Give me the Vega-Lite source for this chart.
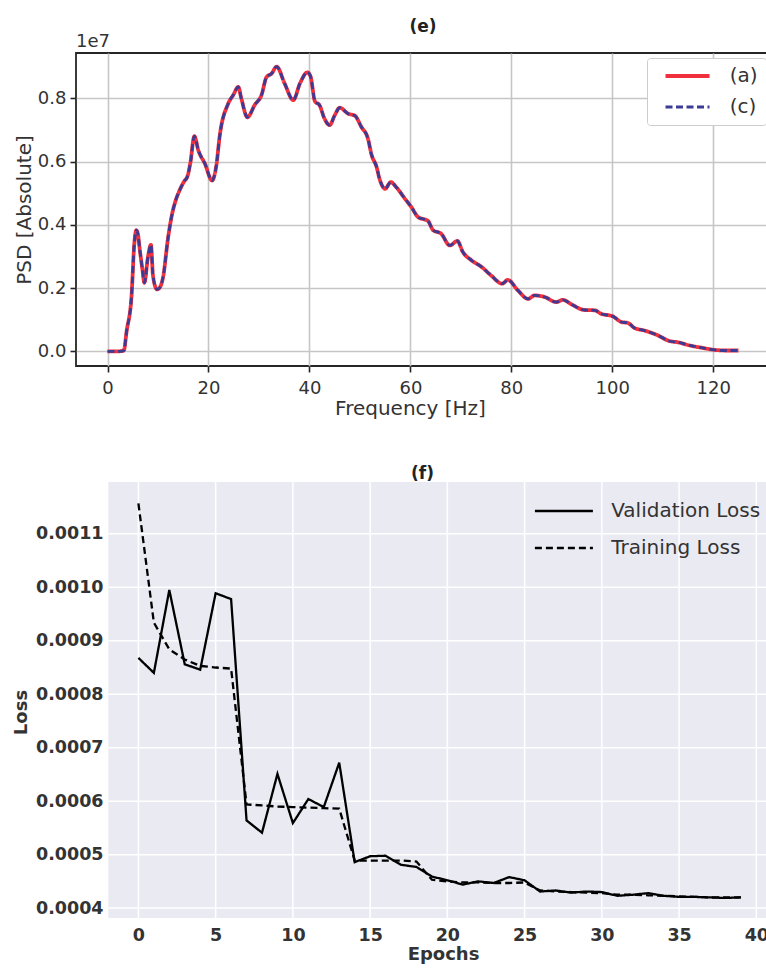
{
  "$schema": "https://vega.github.io/schema/vega-lite/v6.json",
  "background": "white",
  "padding": {"left": 12, "top": 17, "right": 0, "bottom": 0},
  "config": {
    "font": "DejaVu Sans",
    "title": {"font": "DejaVu Sans", "fontWeight": "bold", "fontSize": 17, "color": "#222222", "anchor": "middle"}
  },
  "datasets": {
    "psd": [
      {"f": 0, "a": 0, "c": 0},
      {"f": 1, "a": 0, "c": 0},
      {"f": 2.4, "a": 5000, "c": 5000},
      {"f": 3.2, "a": 25000, "c": 25000},
      {"f": 3.8, "a": 660000, "c": 660000},
      {"f": 4.75, "a": 1750000, "c": 1750000},
      {"f": 5.3, "a": 3400000, "c": 3400000},
      {"f": 5.7, "a": 3830000, "c": 3830000},
      {"f": 6.0, "a": 3720000, "c": 3720000},
      {"f": 6.4, "a": 3200000, "c": 3200000},
      {"f": 6.9, "a": 2600000, "c": 2600000},
      {"f": 7.3, "a": 2170000, "c": 2170000},
      {"f": 8.0, "a": 2980000, "c": 2980000},
      {"f": 8.6, "a": 3370000, "c": 3370000},
      {"f": 9.0, "a": 2400000, "c": 2400000},
      {"f": 9.8, "a": 1960000, "c": 1960000},
      {"f": 10.4, "a": 2030000, "c": 2030000},
      {"f": 11.0, "a": 2350000, "c": 2350000},
      {"f": 12.0, "a": 3600000, "c": 3600000},
      {"f": 12.8, "a": 4350000, "c": 4350000},
      {"f": 13.5, "a": 4770000, "c": 4770000},
      {"f": 14.3, "a": 5100000, "c": 5100000},
      {"f": 15.2, "a": 5380000, "c": 5380000},
      {"f": 15.8, "a": 5520000, "c": 5520000},
      {"f": 16.4, "a": 5950000, "c": 5950000},
      {"f": 17.2, "a": 6800000, "c": 6800000},
      {"f": 18.0, "a": 6350000, "c": 6350000},
      {"f": 19.3, "a": 5930000, "c": 5930000},
      {"f": 20.7, "a": 5400000, "c": 5400000},
      {"f": 21.6, "a": 5930000, "c": 5930000},
      {"f": 22.2, "a": 6780000, "c": 6780000},
      {"f": 23.9, "a": 7830000, "c": 7830000},
      {"f": 24.9, "a": 8100000, "c": 8100000},
      {"f": 25.9, "a": 8360000, "c": 8360000},
      {"f": 26.5, "a": 8000000, "c": 8000000},
      {"f": 27.7, "a": 7400000, "c": 7400000},
      {"f": 29.2, "a": 7800000, "c": 7800000},
      {"f": 30.5, "a": 8100000, "c": 8100000},
      {"f": 31.5, "a": 8670000, "c": 8670000},
      {"f": 32.5, "a": 8780000, "c": 8780000},
      {"f": 33.5, "a": 9000000, "c": 9000000},
      {"f": 35.1, "a": 8460000, "c": 8460000},
      {"f": 36.8, "a": 7940000, "c": 7940000},
      {"f": 38.1, "a": 8460000, "c": 8460000},
      {"f": 39.6, "a": 8820000, "c": 8820000},
      {"f": 40.2, "a": 8700000, "c": 8700000},
      {"f": 41.1, "a": 7900000, "c": 7900000},
      {"f": 42.0, "a": 7780000, "c": 7780000},
      {"f": 43.0, "a": 7350000, "c": 7350000},
      {"f": 44.0, "a": 7150000, "c": 7150000},
      {"f": 45.0, "a": 7460000, "c": 7460000},
      {"f": 46.0, "a": 7700000, "c": 7700000},
      {"f": 47.7, "a": 7510000, "c": 7510000},
      {"f": 49.0, "a": 7450000, "c": 7450000},
      {"f": 50.3, "a": 7090000, "c": 7090000},
      {"f": 51.6, "a": 6720000, "c": 6720000},
      {"f": 52.3, "a": 6220000, "c": 6220000},
      {"f": 53.3, "a": 5830000, "c": 5830000},
      {"f": 53.9, "a": 5450000, "c": 5450000},
      {"f": 55.0, "a": 5140000, "c": 5140000},
      {"f": 56.1, "a": 5350000, "c": 5350000},
      {"f": 57.2, "a": 5190000, "c": 5190000},
      {"f": 58.9, "a": 4830000, "c": 4830000},
      {"f": 60.2, "a": 4560000, "c": 4560000},
      {"f": 61.5, "a": 4250000, "c": 4250000},
      {"f": 63.5, "a": 4120000, "c": 4120000},
      {"f": 64.5, "a": 3830000, "c": 3830000},
      {"f": 66.1, "a": 3720000, "c": 3720000},
      {"f": 67.8, "a": 3350000, "c": 3350000},
      {"f": 69.3, "a": 3490000, "c": 3490000},
      {"f": 70.4, "a": 3140000, "c": 3140000},
      {"f": 72.1, "a": 2880000, "c": 2880000},
      {"f": 74.1, "a": 2670000, "c": 2670000},
      {"f": 76.0, "a": 2400000, "c": 2400000},
      {"f": 78.2, "a": 2140000, "c": 2140000},
      {"f": 79.3, "a": 2260000, "c": 2260000},
      {"f": 81.3, "a": 1930000, "c": 1930000},
      {"f": 83.3, "a": 1660000, "c": 1660000},
      {"f": 84.6, "a": 1770000, "c": 1770000},
      {"f": 86.6, "a": 1720000, "c": 1720000},
      {"f": 88.9, "a": 1560000, "c": 1560000},
      {"f": 90.2, "a": 1630000, "c": 1630000},
      {"f": 91.9, "a": 1490000, "c": 1490000},
      {"f": 94.5, "a": 1310000, "c": 1310000},
      {"f": 96.5, "a": 1300000, "c": 1300000},
      {"f": 97.8, "a": 1190000, "c": 1190000},
      {"f": 100.1, "a": 1110000, "c": 1110000},
      {"f": 101.8, "a": 930000, "c": 930000},
      {"f": 103.1, "a": 900000, "c": 900000},
      {"f": 104.4, "a": 740000, "c": 740000},
      {"f": 106.4, "a": 660000, "c": 660000},
      {"f": 109.0, "a": 510000, "c": 510000},
      {"f": 111.3, "a": 330000, "c": 330000},
      {"f": 113.0, "a": 290000, "c": 290000},
      {"f": 115.3, "a": 190000, "c": 190000},
      {"f": 117.6, "a": 120000, "c": 120000},
      {"f": 120.3, "a": 50000, "c": 50000},
      {"f": 122.5, "a": 30000, "c": 30000},
      {"f": 125.0, "a": 30000, "c": 30000}
    ],
    "loss": [
      {"epoch": 0, "Validation Loss": 0.000868, "Training Loss": 0.001157},
      {"epoch": 1, "Validation Loss": 0.000840, "Training Loss": 0.000934},
      {"epoch": 2, "Validation Loss": 0.000995, "Training Loss": 0.000884},
      {"epoch": 3, "Validation Loss": 0.000856, "Training Loss": 0.000865},
      {"epoch": 4, "Validation Loss": 0.000846, "Training Loss": 0.000853},
      {"epoch": 5, "Validation Loss": 0.000989, "Training Loss": 0.000850},
      {"epoch": 6, "Validation Loss": 0.000978, "Training Loss": 0.000848},
      {"epoch": 7, "Validation Loss": 0.000564, "Training Loss": 0.000594},
      {"epoch": 8, "Validation Loss": 0.000541, "Training Loss": 0.000592},
      {"epoch": 9, "Validation Loss": 0.000651, "Training Loss": 0.000590},
      {"epoch": 10, "Validation Loss": 0.000559, "Training Loss": 0.000589},
      {"epoch": 11, "Validation Loss": 0.000604, "Training Loss": 0.000588},
      {"epoch": 12, "Validation Loss": 0.000589, "Training Loss": 0.000587},
      {"epoch": 13, "Validation Loss": 0.000672, "Training Loss": 0.000586},
      {"epoch": 14, "Validation Loss": 0.000486, "Training Loss": 0.000489},
      {"epoch": 15, "Validation Loss": 0.000497, "Training Loss": 0.000489},
      {"epoch": 16, "Validation Loss": 0.000498, "Training Loss": 0.000489},
      {"epoch": 17, "Validation Loss": 0.000481, "Training Loss": 0.000489},
      {"epoch": 18, "Validation Loss": 0.000477, "Training Loss": 0.000487},
      {"epoch": 19, "Validation Loss": 0.000459, "Training Loss": 0.000453},
      {"epoch": 20, "Validation Loss": 0.000452, "Training Loss": 0.000450},
      {"epoch": 21, "Validation Loss": 0.000444, "Training Loss": 0.000448},
      {"epoch": 22, "Validation Loss": 0.000450, "Training Loss": 0.000448},
      {"epoch": 23, "Validation Loss": 0.000447, "Training Loss": 0.000447},
      {"epoch": 24, "Validation Loss": 0.000458, "Training Loss": 0.000447},
      {"epoch": 25, "Validation Loss": 0.000452, "Training Loss": 0.000448},
      {"epoch": 26, "Validation Loss": 0.000431, "Training Loss": 0.000433},
      {"epoch": 27, "Validation Loss": 0.000433, "Training Loss": 0.000431},
      {"epoch": 28, "Validation Loss": 0.000429, "Training Loss": 0.000430},
      {"epoch": 29, "Validation Loss": 0.000431, "Training Loss": 0.000429},
      {"epoch": 30, "Validation Loss": 0.000430, "Training Loss": 0.000428},
      {"epoch": 31, "Validation Loss": 0.000423, "Training Loss": 0.000425},
      {"epoch": 32, "Validation Loss": 0.000425, "Training Loss": 0.000425},
      {"epoch": 33, "Validation Loss": 0.000428, "Training Loss": 0.000424},
      {"epoch": 34, "Validation Loss": 0.000423, "Training Loss": 0.000423},
      {"epoch": 35, "Validation Loss": 0.000421, "Training Loss": 0.000422},
      {"epoch": 36, "Validation Loss": 0.000421, "Training Loss": 0.000421},
      {"epoch": 37, "Validation Loss": 0.000420, "Training Loss": 0.000420},
      {"epoch": 38, "Validation Loss": 0.000419, "Training Loss": 0.000420},
      {"epoch": 39, "Validation Loss": 0.000420, "Training Loss": 0.000420}
    ],
    "lossPanel": [
      {"x0": -1.95, "x1": 40.95, "y0": 0.0003815, "y1": 0.001197}
    ],
    "epochTicks": [
      {"epoch": 0}, {"epoch": 5}, {"epoch": 10}, {"epoch": 15}, {"epoch": 20},
      {"epoch": 25}, {"epoch": 30}, {"epoch": 35}, {"epoch": 40}
    ],
    "lossTicks": [
      {"loss": 0.0004}, {"loss": 0.0005}, {"loss": 0.0006}, {"loss": 0.0007},
      {"loss": 0.0008}, {"loss": 0.0009}, {"loss": 0.001}, {"loss": 0.0011}
    ]
  },
  "columns": 1,
  "align": "none",
  "spacing": 46,
  "resolve": {
    "scale": {"x": "independent", "y": "independent", "color": "independent", "strokeDash": "independent", "strokeWidth": "independent"},
    "legend": {"color": "independent", "strokeDash": "independent"}
  },
  "concat": [
    {
      "width": 694,
      "height": 313,
      "title": {"text": "(e)", "offset": -3},
      "view": {"fill": "white", "stroke": "#262626", "strokeWidth": 1.8},
      "layer": [
        {
          "mark": {"type": "rule", "color": "black", "strokeWidth": 1.2},
          "encoding": {"x": {"datum": 100, "type": "quantitative"}}
        },
        {
          "data": {"name": "psd"},
          "transform": [{"fold": ["a", "c"], "as": ["series", "psd"]}],
          "mark": {"type": "line", "interpolate": "monotone", "strokeCap": "butt"},
          "encoding": {
            "x": {
              "field": "f",
              "type": "quantitative",
              "scale": {"domain": [-6.25, 131.25], "nice": false, "zero": false},
              "axis": {
                "title": "Frequency [Hz]", "titleX": 334,
                "values": [0, 20, 40, 60, 80, 100, 120],
                "grid": true, "gridColor": "#c6c6c6", "gridWidth": 1.6,
                "domain": false,
                "ticks": true, "tickColor": "#262626", "tickSize": 6, "tickWidth": 1.6,
                "labelFontSize": 18, "labelColor": "#333333", "labelPadding": 7,
                "titleFontSize": 20, "titleFontWeight": "normal", "titleColor": "#333333", "titlePadding": 1
              }
            },
            "y": {
              "field": "psd",
              "type": "quantitative",
              "scale": {"domain": [-460000, 9430000], "nice": false, "zero": false},
              "axis": {
                "title": "PSD [Absolute]",
                "values": [0, 2000000, 4000000, 6000000, 8000000],
                "labelExpr": "format(datum.value / 10000000, '.1f')",
                "grid": true, "gridColor": "#c6c6c6", "gridWidth": 1.6,
                "domain": false,
                "ticks": true, "tickColor": "#262626", "tickSize": 6, "tickWidth": 1.6,
                "labelFontSize": 18, "labelColor": "#333333", "labelPadding": 4,
                "titleFontSize": 20, "titleFontWeight": "normal", "titleColor": "#333333", "titlePadding": 3
              }
            },
            "color": {
              "field": "series",
              "type": "nominal",
              "scale": {"domain": ["a", "c"], "range": ["#f0303c", "#3b3b95"]},
              "legend": {
                "orient": "none", "legendX": 571, "legendY": 5, "title": null,
                "labelExpr": "'(' + datum.label + ')  '",
                "labelFontSize": 20, "labelColor": "#333333", "labelOffset": 32.3,
                "symbolType": "M-3,0H3", "symbolSize": 215, "symbolOffset": 22.5, "symbolStrokeWidth": 3.2,
                "rowPadding": 11, "padding": 8,
                "strokeColor": "#cccccc", "fillColor": "white", "cornerRadius": 3
              }
            },
            "strokeDash": {
              "field": "series",
              "type": "nominal",
              "scale": {"domain": ["a", "c"], "range": [[1, 0], [7, 3.5]]},
              "legend": {
                "orient": "none", "legendX": 571, "legendY": 5, "title": null,
                "labelExpr": "'(' + datum.label + ')  '",
                "labelFontSize": 20, "labelColor": "#333333", "labelOffset": 32.3,
                "symbolType": "M-3,0H3", "symbolSize": 215, "symbolOffset": 22.5, "symbolStrokeWidth": 3.2,
                "rowPadding": 11, "padding": 8,
                "strokeColor": "#cccccc", "fillColor": "white", "cornerRadius": 3
              }
            },
            "strokeWidth": {
              "field": "series",
              "type": "ordinal",
              "scale": {"domain": ["a", "c"], "range": [3.8, 2.8]},
              "legend": null
            }
          }
        },
        {
          "data": {"values": [{"f": -6.25, "top": 9430000, "label": "1e7"}]},
          "mark": {"type": "text", "align": "left", "baseline": "bottom", "fontSize": 18, "color": "#333333", "dy": -2},
          "encoding": {
            "x": {"field": "f", "type": "quantitative"},
            "y": {"field": "top", "type": "quantitative"},
            "text": {"field": "label"}
          }
        }
      ]
    },
    {
      "width": 695,
      "height": 436,
      "title": {"text": "(f)", "offset": -2, "dx": -1},
      "view": {"fill": null, "stroke": null},
      "layer": [
        {
          "data": {"name": "lossPanel"},
          "mark": {"type": "rect", "color": "#eaeaf2"},
          "encoding": {
            "x": {"field": "x0", "type": "quantitative", "scale": {"domain": [-4.04, 40.95], "nice": false, "zero": false}},
            "x2": {"field": "x1"},
            "y": {"field": "y0", "type": "quantitative", "scale": {"domain": [0.0003815, 0.001197], "nice": false, "zero": false}},
            "y2": {"field": "y1"}
          }
        },
        {
          "data": {"name": "epochTicks"},
          "mark": {"type": "rule", "color": "white", "strokeWidth": 1.5},
          "encoding": {
            "x": {"field": "epoch", "type": "quantitative", "scale": {"domain": [-4.04, 40.95], "nice": false, "zero": false}}
          }
        },
        {
          "data": {"name": "lossTicks"},
          "mark": {"type": "rule", "color": "white", "strokeWidth": 1.5},
          "encoding": {
            "y": {"field": "loss", "type": "quantitative", "scale": {"domain": [0.0003815, 0.001197], "nice": false, "zero": false}},
            "x": {"datum": -1.95, "type": "quantitative"},
            "x2": {"datum": 40.95}
          }
        },
        {
          "data": {"name": "loss"},
          "transform": [{"fold": ["Validation Loss", "Training Loss"], "as": ["series", "loss"]}],
          "mark": {"type": "line", "color": "black", "strokeWidth": 2.3},
          "encoding": {
            "x": {
              "field": "epoch",
              "type": "quantitative",
              "scale": {"domain": [-4.04, 40.95], "nice": false, "zero": false},
              "axis": {
                "title": "Epochs", "titleX": 367,
                "values": [0, 5, 10, 15, 20, 25, 30, 35, 40],
                "grid": false, "domain": false, "ticks": false,
                "labelFontSize": 17.5, "labelFontWeight": "bold", "labelColor": "#333333", "labelPadding": 8,
                "titleFontSize": 18, "titleFontWeight": "bold", "titleColor": "#333333", "titlePadding": 2
              }
            },
            "y": {
              "field": "loss",
              "type": "quantitative",
              "scale": {"domain": [0.0003815, 0.001197], "nice": false, "zero": false},
              "axis": {
                "title": "Loss", "titleY": 230,
                "offset": -32,
                "values": [0.0004, 0.0005, 0.0006, 0.0007, 0.0008, 0.0009, 0.001, 0.0011],
                "format": ".4f",
                "grid": false, "domain": false, "ticks": false,
                "labelFontSize": 17.5, "labelFontWeight": "bold", "labelColor": "#333333", "labelPadding": 5,
                "titleFontSize": 18, "titleFontWeight": "bold", "titleColor": "#333333", "titlePadding": 5
              }
            },
            "strokeDash": {
              "field": "series",
              "type": "nominal",
              "scale": {"domain": ["Validation Loss", "Training Loss"], "range": [[1, 0], [7, 4]]},
              "legend": {
                "orient": "none", "legendX": 457.6, "legendY": 18, "title": null,
                "labelFontSize": 20, "labelColor": "#333333", "labelOffset": 36.3,
                "symbolType": "M-3,0H3", "symbolSize": 374, "symbolOffset": 19.3,
                "symbolStrokeWidth": 2.5, "symbolStrokeColor": "black",
                "rowPadding": 16, "padding": 0
              }
            }
          }
        }
      ]
    }
  ]
}
